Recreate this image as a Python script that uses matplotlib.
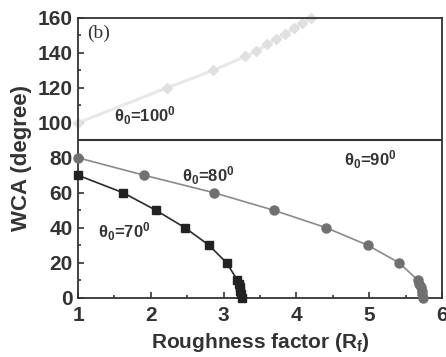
import numpy as np
import matplotlib
matplotlib.use('Agg')
import matplotlib.pyplot as plt
from matplotlib.ticker import MultipleLocator

plt.rcParams['font.family'] = ['Liberation Sans', 'DejaVu Sans']
plt.rcParams['font.weight'] = 'bold'
plt.rcParams['mathtext.default'] = 'regular'

# theta0 = 70 deg (squares)
r_70 = [1.0, 1.62, 2.07, 2.47, 2.80, 3.04, 3.19, 3.21, 3.22, 3.23, 3.24, 3.25]
wca_70 = [70, 60, 50, 40, 30, 20, 10, 8, 6, 4, 2, 0]

# theta0 = 80 deg (circles)
r_80 = [1.0, 1.91, 2.87, 3.69, 4.41, 4.98, 5.41, 5.67, 5.69, 5.71, 5.72, 5.73, 5.74]
wca_80 = [80, 70, 60, 50, 40, 30, 20, 10, 8, 6, 4, 2, 0]

# theta0 = 100 deg (light)
r_100 = [1.0, 2.22, 2.86, 3.3, 3.45, 3.6, 3.72, 3.85, 3.97, 4.08, 4.2]
wca_100 = [100, 120, 130, 138, 141, 145, 148, 151, 154, 157, 160]

fig = plt.figure(figsize=(4.46, 3.57), dpi=100)
ax = fig.add_axes([0.175, 0.166, 0.816, 0.784])

ax.plot(r_100, wca_100, color='#e8e8e8', lw=2.2, marker='D', ms=5.5,
        mec='#e0e0e0', mfc='#e0e0e0', clip_on=False, zorder=2)
ax.plot(r_80, wca_80, color='#8a8a8a', lw=1.2, marker='o', ms=6.5,
        mec='#707070', mfc='#707070', clip_on=False, zorder=3)
ax.plot(r_70, wca_70, color='#2a2a2a', lw=1.2, marker='s', ms=6,
        mec='#222222', mfc='#222222', clip_on=False, zorder=3)
ax.axhline(90, color='#333333', lw=1.5)

ax.set_xlim(1, 6)
ax.set_ylim(0, 160)
ax.xaxis.set_major_locator(MultipleLocator(1))
ax.xaxis.set_minor_locator(MultipleLocator(0.5))
ax.yaxis.set_major_locator(MultipleLocator(20))
ax.yaxis.set_minor_locator(MultipleLocator(10))
ax.tick_params(which='both', direction='in', top=False, right=False,
               labelsize=15, width=1.2, colors='#333333', labelcolor='#333333')
ax.tick_params(axis='x', pad=6)
ax.tick_params(axis='y', pad=4)
ax.tick_params(which='major', length=4)
ax.tick_params(which='minor', length=2.5)
for s in ax.spines.values():
    s.set_linewidth(1.3)
    s.set_color('#333333')

ax.set_xlabel('Roughness factor (R$_f$)', fontsize=15, fontweight='bold',
              color='#333333', labelpad=4)
ax.set_ylabel('WCA (degree)', fontsize=16, fontweight='bold',
              color='#333333', labelpad=4)

ax.text(1.12, 151, '(b)', fontsize=14, family='Liberation Serif', fontweight='normal',
        color='#333333', va='center')
ax.text(1.5, 104, r'$\theta_0$=100$^0$', fontsize=12, color='#333333', va='center')
ax.text(4.66, 79, r'$\theta_0$=90$^0$', fontsize=12, color='#333333', va='center')
ax.text(2.43, 70, r'$\theta_0$=80$^0$', fontsize=12, color='#333333', va='center')
ax.text(1.27, 38, r'$\theta_0$=70$^0$', fontsize=12, color='#333333', va='center')

fig.savefig('out.png', dpi=100)
